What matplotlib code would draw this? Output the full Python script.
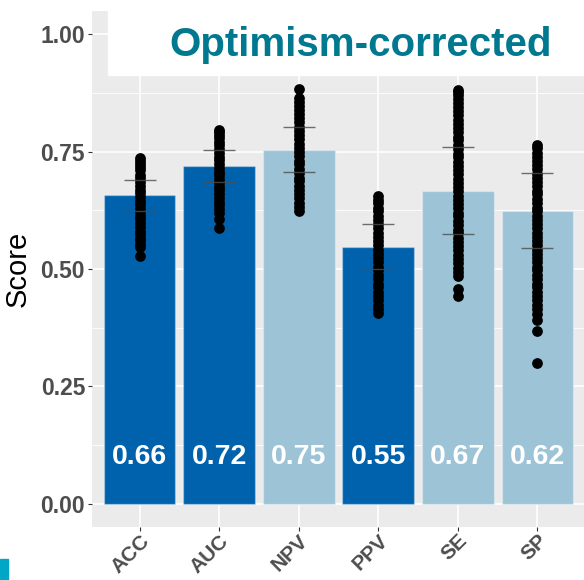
#!/usr/bin/env python
"""Bar chart of optimism-corrected performance scores with bootstrap points."""

import matplotlib
matplotlib.use('Agg')
import matplotlib.pyplot as plt
from matplotlib.patches import Rectangle


# metrics and optimism-corrected scores
METRICS = ['ACC', 'AUC', 'NPV', 'PPV', 'SE', 'SP']
SCORES = [0.657, 0.719, 0.753, 0.546, 0.666, 0.624]
HIGHLIGHT = [True, True, False, True, False, False]

# interval bounds drawn as short horizontal ticks
LOWER = [0.623, 0.685, 0.707, 0.500, 0.574, 0.545]
UPPER = [0.689, 0.753, 0.802, 0.596, 0.760, 0.704]

# bootstrap resample scores
ACC_PTS = [0.528, 0.547, 0.553, 0.561, 0.566, 0.574, 0.581, 0.589, 0.597,
           0.606, 0.613, 0.622, 0.629, 0.638, 0.645, 0.653, 0.662, 0.669,
           0.678, 0.685, 0.694, 0.701, 0.710, 0.717, 0.724, 0.730, 0.736]
AUC_PTS = [0.588, 0.606, 0.619, 0.627, 0.636, 0.643, 0.652, 0.659, 0.668,
           0.675, 0.684, 0.691, 0.700, 0.707, 0.716, 0.723, 0.732, 0.739,
           0.748, 0.755, 0.764, 0.771, 0.779, 0.785, 0.791, 0.797]
NPV_PTS = [0.624, 0.633, 0.641, 0.651, 0.659, 0.669, 0.677, 0.687, 0.695,
           0.705, 0.713, 0.723, 0.731, 0.741, 0.749, 0.759, 0.767, 0.777,
           0.785, 0.795, 0.803, 0.813, 0.821, 0.831, 0.839, 0.848, 0.856,
           0.864, 0.883]
PPV_PTS = [0.406, 0.415, 0.424, 0.433, 0.442, 0.451, 0.461, 0.469, 0.479,
           0.487, 0.497, 0.505, 0.515, 0.523, 0.533, 0.541, 0.551, 0.559,
           0.569, 0.577, 0.587, 0.595, 0.605, 0.613, 0.623, 0.631, 0.640,
           0.648, 0.655]
SE_PTS = [0.443, 0.457, 0.485, 0.494, 0.503, 0.512, 0.521, 0.530, 0.540,
          0.548, 0.558, 0.566, 0.576, 0.584, 0.594, 0.602, 0.612, 0.620,
          0.630, 0.638, 0.648, 0.656, 0.666, 0.674, 0.684, 0.692, 0.702,
          0.710, 0.720, 0.728, 0.738, 0.746, 0.756, 0.764, 0.774, 0.782,
          0.792, 0.800, 0.810, 0.818, 0.828, 0.836, 0.846, 0.854, 0.863,
          0.871, 0.877, 0.882]
SP_PTS = [0.300, 0.368, 0.391, 0.404, 0.415, 0.424, 0.433, 0.443, 0.451,
          0.461, 0.469, 0.479, 0.487, 0.497, 0.505, 0.515, 0.523, 0.533,
          0.541, 0.551, 0.559, 0.569, 0.577, 0.587, 0.595, 0.605, 0.613,
          0.623, 0.631, 0.641, 0.649, 0.659, 0.667, 0.677, 0.685, 0.695,
          0.703, 0.713, 0.721, 0.731, 0.739, 0.748, 0.757, 0.765]
POINTS = [ACC_PTS, AUC_PTS, NPV_PTS, PPV_PTS, SE_PTS, SP_PTS]

YTICKS = [0.00, 0.25, 0.50, 0.75, 1.00]
TITLE = 'Optimism-corrected'

DARK = '#0062ad'
LIGHT = '#9dc3d7'
TEAL = '#00788f'
GREY = '#4d4d4d'


def main():
    """Draw the chart and save it."""

    plt.rc('font', family=['Liberation Sans', 'DejaVu Sans'])

    fig = plt.figure(figsize=(5.84, 5.80), dpi=100)
    ax = fig.add_axes([92/584, 53/580, 493/584, 516/580])
    ax.set_facecolor('#ebebeb')
    for spine in ax.spines.values():
        spine.set_visible(False)

    # grid
    x = list(range(1, len(METRICS) + 1))
    for t in YTICKS:
        ax.axhline(t, color='white', lw=1.2, zorder=0)
    for t in [0.125, 0.375, 0.625, 0.875]:
        ax.axhline(t, color='white', lw=0.6, zorder=0)
    for xi in x:
        ax.axvline(xi, color='white', lw=1.2, zorder=0)

    # bars
    colors = [DARK if h else LIGHT for h in HIGHLIGHT]
    ax.bar(x, SCORES, width=0.9, color=colors,
           edgecolor=(1, 1, 1, 0.3), lw=1, zorder=1)

    # bootstrap points and interval ticks
    for xi, pts, lo, hi in zip(x, POINTS, LOWER, UPPER):
        ax.scatter([xi]*len(pts), pts, s=60, color='black', lw=0, zorder=2)
        ax.hlines([lo, hi], xi - 0.2, xi + 0.2, color='0.3', lw=1,
                  alpha=0.8, zorder=3)

    # value labels
    for xi, v in zip(x, SCORES):
        ax.text(xi, 0.1, '{:.2f}'.format(v), color='white', fontsize=20.5,
                weight='bold', ha='center', va='center', zorder=4)

    # axes
    ax.set_xlim(0.4, len(METRICS) + 0.6)
    ax.set_ylim(-0.05, 1.05)
    ax.set_yticks(YTICKS)
    ax.set_yticklabels(['{:.2f}'.format(t) for t in YTICKS])
    ax.set_xticks(x)
    ax.set_xticklabels(METRICS, rotation=45, ha='right', va='top',
                       rotation_mode='anchor')
    ax.tick_params(axis='both', colors='#333333', length=3, width=0.8,
                   labelcolor=GREY)
    ax.tick_params(axis='y', labelsize=16.5, pad=2)
    ax.tick_params(axis='x', labelsize=15, pad=0)
    for lab in ax.get_xticklabels() + ax.get_yticklabels():
        lab.set_fontweight('bold')
    ax.set_ylabel('Score', fontsize=21, labelpad=6)

    # title box
    fig.patches.append(Rectangle((108/584, 1 - 75/580), 476/584, 75/580,
                                 transform=fig.transFigure, color='white',
                                 zorder=5))
    fig.text(361/584, 1 - 56/580, TITLE, color=TEAL, fontsize=29,
             weight='bold', ha='center', va='baseline', zorder=6)

    # corner marker
    fig.patches.append(Rectangle((0, 0), 8/584, 21/580,
                                 transform=fig.transFigure, color='#00a6c6',
                                 zorder=5))

    fig.savefig('out.png', dpi=100)
    plt.close(fig)


if __name__ == '__main__':
    main()
